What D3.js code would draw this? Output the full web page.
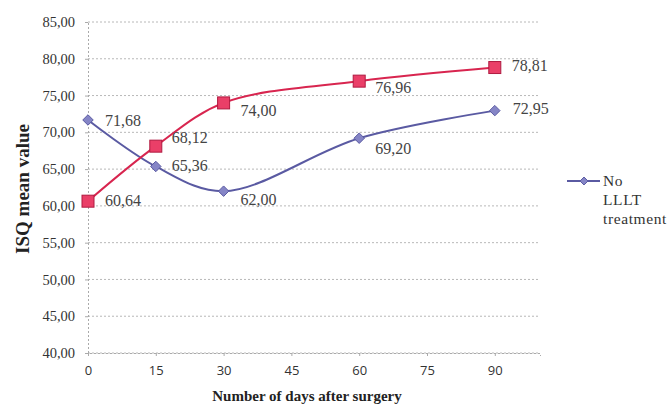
<!DOCTYPE html>
<html><head><meta charset="utf-8">
<script src="https://cdn.jsdelivr.net/npm/d3@7"></script>
<style>body{margin:0;background:#fff}svg{display:block}</style>
</head><body>
<svg id="c" width="669" height="407"></svg>
<script>
const days = [0, 15, 30, 60, 90];
const noLLLT = [71.68, 65.36, 62.00, 69.20, 72.95];
const withLLLT = [60.64, 68.12, 74.00, 76.96, 78.81];
const xTicks = [0, 15, 30, 45, 60, 75, 90];
const yTicks = [40, 45, 50, 55, 60, 65, 70, 75, 80, 85];
const legendLines = ["No", "LLLT", "treatment"];

const svg = d3.select("#c");
const x = d3.scaleLinear().domain([0, 100]).range([88, 540]);
const y = d3.scaleLinear().domain([40, 85]).range([353, 22]);
const fmt = v => d3.format(".2f")(v).replace(".", ",");

// gridlines
svg.append("g").selectAll("line").data(yTicks).join("line")
  .attr("x1", x(0)).attr("x2", x(100))
  .attr("y1", d => y(d)).attr("y2", d => y(d))
  .attr("stroke", "#b8b8b8").attr("stroke-width", 1).attr("stroke-dasharray", "2,2");

// axes
const xAxis = svg.append("g").attr("transform", `translate(0,${y(40)})`)
  .call(d3.axisBottom(x).tickValues(xTicks).tickSize(3).tickFormat(d3.format("d")));
xAxis.select(".domain").attr("stroke", "#aaa").attr("stroke-dasharray", "2,2");
xAxis.selectAll(".tick line").attr("stroke", "#aaa");
xAxis.selectAll("text").attr("font-family", "'Open Sans', sans-serif").attr("font-size", 13)
  .attr("fill", "#333").attr("dy", "1.25em");

const yAxis = svg.append("g").attr("transform", `translate(${x(0)},0)`)
  .call(d3.axisLeft(y).tickValues(yTicks).tickSize(3).tickFormat(fmt));
yAxis.select(".domain").attr("stroke", "#aaa").attr("stroke-dasharray", "2,2");
yAxis.selectAll(".tick line").attr("stroke", "#aaa");
yAxis.selectAll("text").attr("font-family", "'Liberation Serif', serif").attr("font-size", 14.5)
  .attr("fill", "#333").attr("x", -13);

// axis titles
svg.append("text").attr("x", 307).attr("y", 401).attr("text-anchor", "middle")
  .attr("font-family", "'Liberation Serif', serif").attr("font-weight", "bold")
  .attr("font-size", 15).attr("fill", "#222").text("Number of days after surgery");
svg.append("text").attr("transform", "translate(29,189) rotate(-90)").attr("text-anchor", "middle")
  .attr("font-family", "'Liberation Serif', serif").attr("font-weight", "bold")
  .attr("font-size", 19).attr("fill", "#222").text("ISQ mean value");

const line = d3.line().x(d => x(d[0])).y(d => y(d[1])).curve(d3.curveCatmullRom.alpha(0.5));
const blueData = days.map((d, i) => [d, noLLLT[i]]);
const redData = days.map((d, i) => [d, withLLLT[i]]);

const blue = "#5a5aa2", blueFill = "#8585c6";
const red = "#d8254f", redFill = "#ea3f68";

svg.append("path").datum(blueData).attr("d", line).attr("fill", "none")
  .attr("stroke", blue).attr("stroke-width", 2);
svg.append("path").datum(redData).attr("d", line).attr("fill", "none")
  .attr("stroke", red).attr("stroke-width", 2);

svg.append("g").selectAll("path").data(blueData).join("path")
  .attr("d", d3.symbol().type(d3.symbolDiamond2).size(70))
  .attr("transform", d => `translate(${x(d[0])},${y(d[1])})`)
  .attr("fill", blueFill).attr("stroke", blue).attr("stroke-width", 1);
svg.append("g").selectAll("rect").data(redData).join("rect")
  .attr("x", d => x(d[0]) - 6).attr("y", d => y(d[1]) - 6).attr("width", 12).attr("height", 12)
  .attr("fill", redFill).attr("stroke", "#b01a40").attr("stroke-width", 1);

// data labels
const lblStyle = s => s.attr("font-family", "'Liberation Serif', serif").attr("font-size", 16).attr("fill", "#444");
const blueOff = [[17, 6], [16, 5], [17, 14], [16, 16], [18, 3]];
const redOff = [[17, 5], [16, -3], [17, 13], [16, 12], [17, 3]];
svg.append("g").selectAll("text").data(blueData).join("text")
  .attr("x", (d, i) => x(d[0]) + blueOff[i][0]).attr("y", (d, i) => y(d[1]) + blueOff[i][1])
  .call(lblStyle).text(d => fmt(d[1]));
svg.append("g").selectAll("text").data(redData).join("text")
  .attr("x", (d, i) => x(d[0]) + redOff[i][0]).attr("y", (d, i) => y(d[1]) + redOff[i][1])
  .call(lblStyle).text(d => fmt(d[1]));

// legend
const lg = svg.append("g");
lg.append("line").attr("x1", 567).attr("x2", 600).attr("y1", 181).attr("y2", 181)
  .attr("stroke", blue).attr("stroke-width", 2);
lg.append("path").attr("d", d3.symbol().type(d3.symbolDiamond2).size(40))
  .attr("transform", "translate(584,181)").attr("fill", blueFill).attr("stroke", blue);
lg.selectAll("text").data(legendLines).join("text")
  .attr("x", 603).attr("y", (d, i) => 186 + i * 19)
  .attr("font-family", "'Liberation Serif', serif").attr("font-size", 15.5).attr("fill", "#333")
  .attr("letter-spacing", 0.6)
  .text(d => d);
</script>
</body></html>
